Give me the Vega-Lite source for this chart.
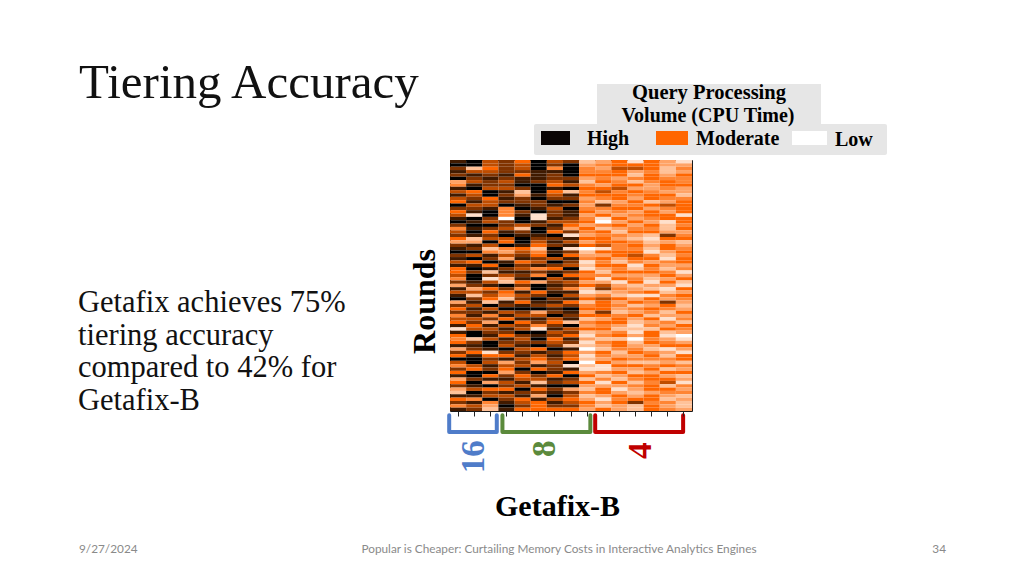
{"$schema":"https://vega.github.io/schema/vega-lite/v6.json","width":242,"height":251,"autosize":"none","padding":{"left":450,"top":160,"right":332,"bottom":165},"background":"white","config":{"view":{"stroke":"#1a1a1a","strokeWidth":1}},"title":{"text":"Tiering Accuracy","anchor":"start","frame":"group","dx":-371,"dy":29,"fontSize":49,"font":"Liberation Serif","fontWeight":"normal","color":"#111111"},
"datasets":{"cells":[
{"r":1,"c":1,"v":8},{"r":1,"c":2,"v":9},{"r":1,"c":3,"v":6},{"r":1,"c":4,"v":7},{"r":1,"c":5,"v":5},{"r":1,"c":6,"v":9},{"r":1,"c":7,"v":6},{"r":1,"c":8,"v":7},{"r":1,"c":9,"v":2},{"r":1,"c":10,"v":3},{"r":1,"c":11,"v":5},{"r":1,"c":12,"v":1},{"r":1,"c":13,"v":5},{"r":1,"c":14,"v":3},{"r":1,"c":15,"v":1},
{"r":2,"c":1,"v":9},{"r":2,"c":2,"v":9},{"r":2,"c":3,"v":6},{"r":2,"c":4,"v":7},{"r":2,"c":5,"v":6},{"r":2,"c":6,"v":9},{"r":2,"c":7,"v":7},{"r":2,"c":8,"v":9},{"r":2,"c":9,"v":3},{"r":2,"c":10,"v":4},{"r":2,"c":11,"v":5},{"r":2,"c":12,"v":5},{"r":2,"c":13,"v":5},{"r":2,"c":14,"v":3},{"r":2,"c":15,"v":3},
{"r":3,"c":1,"v":7},{"r":3,"c":2,"v":2},{"r":3,"c":3,"v":5},{"r":3,"c":4,"v":7},{"r":3,"c":5,"v":6},{"r":3,"c":6,"v":9},{"r":3,"c":7,"v":4},{"r":3,"c":8,"v":9},{"r":3,"c":9,"v":4},{"r":3,"c":10,"v":3},{"r":3,"c":11,"v":6},{"r":3,"c":12,"v":6},{"r":3,"c":13,"v":5},{"r":3,"c":14,"v":2},{"r":3,"c":15,"v":4},
{"r":4,"c":1,"v":8},{"r":4,"c":2,"v":6},{"r":4,"c":3,"v":6},{"r":4,"c":4,"v":7},{"r":4,"c":5,"v":7},{"r":4,"c":6,"v":8},{"r":4,"c":7,"v":8},{"r":4,"c":8,"v":9},{"r":4,"c":9,"v":4},{"r":4,"c":10,"v":4},{"r":4,"c":11,"v":5},{"r":4,"c":12,"v":3},{"r":4,"c":13,"v":4},{"r":4,"c":14,"v":2},{"r":4,"c":15,"v":3},
{"r":5,"c":1,"v":7},{"r":5,"c":2,"v":8},{"r":5,"c":3,"v":7},{"r":5,"c":4,"v":8},{"r":5,"c":5,"v":5},{"r":5,"c":6,"v":8},{"r":5,"c":7,"v":7},{"r":5,"c":8,"v":9},{"r":5,"c":9,"v":5},{"r":5,"c":10,"v":5},{"r":5,"c":11,"v":5},{"r":5,"c":12,"v":2},{"r":5,"c":13,"v":5},{"r":5,"c":14,"v":3},{"r":5,"c":15,"v":5},
{"r":6,"c":1,"v":9},{"r":6,"c":2,"v":7},{"r":6,"c":3,"v":8},{"r":6,"c":4,"v":7},{"r":6,"c":5,"v":8},{"r":6,"c":6,"v":8},{"r":6,"c":7,"v":7},{"r":6,"c":8,"v":7},{"r":6,"c":9,"v":3},{"r":6,"c":10,"v":4},{"r":6,"c":11,"v":3},{"r":6,"c":12,"v":4},{"r":6,"c":13,"v":5},{"r":6,"c":14,"v":4},{"r":6,"c":15,"v":4},
{"r":7,"c":1,"v":3},{"r":7,"c":2,"v":6},{"r":7,"c":3,"v":7},{"r":7,"c":4,"v":6},{"r":7,"c":5,"v":8},{"r":7,"c":6,"v":7},{"r":7,"c":7,"v":6},{"r":7,"c":8,"v":8},{"r":7,"c":9,"v":2},{"r":7,"c":10,"v":5},{"r":7,"c":11,"v":4},{"r":7,"c":12,"v":2},{"r":7,"c":13,"v":4},{"r":7,"c":14,"v":5},{"r":7,"c":15,"v":4},
{"r":8,"c":1,"v":4},{"r":8,"c":2,"v":8},{"r":8,"c":3,"v":7},{"r":8,"c":4,"v":7},{"r":8,"c":5,"v":9},{"r":8,"c":6,"v":9},{"r":8,"c":7,"v":5},{"r":8,"c":8,"v":6},{"r":8,"c":9,"v":4},{"r":8,"c":10,"v":3},{"r":8,"c":11,"v":5},{"r":8,"c":12,"v":5},{"r":8,"c":13,"v":3},{"r":8,"c":14,"v":5},{"r":8,"c":15,"v":5},
{"r":9,"c":1,"v":8},{"r":9,"c":2,"v":9},{"r":9,"c":3,"v":6},{"r":9,"c":4,"v":6},{"r":9,"c":5,"v":7},{"r":9,"c":6,"v":9},{"r":9,"c":7,"v":8},{"r":9,"c":8,"v":9},{"r":9,"c":9,"v":5},{"r":9,"c":10,"v":5},{"r":9,"c":11,"v":6},{"r":9,"c":12,"v":3},{"r":9,"c":13,"v":3},{"r":9,"c":14,"v":4},{"r":9,"c":15,"v":3},
{"r":10,"c":1,"v":6},{"r":10,"c":2,"v":5},{"r":10,"c":3,"v":9},{"r":10,"c":4,"v":8},{"r":10,"c":5,"v":2},{"r":10,"c":6,"v":9},{"r":10,"c":7,"v":5},{"r":10,"c":8,"v":2},{"r":10,"c":9,"v":4},{"r":10,"c":10,"v":6},{"r":10,"c":11,"v":4},{"r":10,"c":12,"v":5},{"r":10,"c":13,"v":4},{"r":10,"c":14,"v":3},{"r":10,"c":15,"v":3},
{"r":11,"c":1,"v":8},{"r":11,"c":2,"v":6},{"r":11,"c":3,"v":9},{"r":11,"c":4,"v":7},{"r":11,"c":5,"v":3},{"r":11,"c":6,"v":8},{"r":11,"c":7,"v":6},{"r":11,"c":8,"v":8},{"r":11,"c":9,"v":5},{"r":11,"c":10,"v":5},{"r":11,"c":11,"v":5},{"r":11,"c":12,"v":4},{"r":11,"c":13,"v":5},{"r":11,"c":14,"v":5},{"r":11,"c":15,"v":2},
{"r":12,"c":1,"v":6},{"r":12,"c":2,"v":7},{"r":12,"c":3,"v":5},{"r":12,"c":4,"v":8},{"r":12,"c":5,"v":7},{"r":12,"c":6,"v":9},{"r":12,"c":7,"v":7},{"r":12,"c":8,"v":7},{"r":12,"c":9,"v":3},{"r":12,"c":10,"v":4},{"r":12,"c":11,"v":5},{"r":12,"c":12,"v":3},{"r":12,"c":13,"v":5},{"r":12,"c":14,"v":4},{"r":12,"c":15,"v":4},
{"r":13,"c":1,"v":5},{"r":13,"c":2,"v":8},{"r":13,"c":3,"v":6},{"r":13,"c":4,"v":7},{"r":13,"c":5,"v":7},{"r":13,"c":6,"v":7},{"r":13,"c":7,"v":9},{"r":13,"c":8,"v":9},{"r":13,"c":9,"v":4},{"r":13,"c":10,"v":2},{"r":13,"c":11,"v":3},{"r":13,"c":12,"v":5},{"r":13,"c":13,"v":2},{"r":13,"c":14,"v":3},{"r":13,"c":15,"v":5},
{"r":14,"c":1,"v":9},{"r":14,"c":2,"v":6},{"r":14,"c":3,"v":6},{"r":14,"c":4,"v":9},{"r":14,"c":5,"v":8},{"r":14,"c":6,"v":7},{"r":14,"c":7,"v":8},{"r":14,"c":8,"v":7},{"r":14,"c":9,"v":3},{"r":14,"c":10,"v":7},{"r":14,"c":11,"v":4},{"r":14,"c":12,"v":4},{"r":14,"c":13,"v":5},{"r":14,"c":14,"v":6},{"r":14,"c":15,"v":5},
{"r":15,"c":1,"v":7},{"r":15,"c":2,"v":7},{"r":15,"c":3,"v":8},{"r":15,"c":4,"v":4},{"r":15,"c":5,"v":9},{"r":15,"c":6,"v":8},{"r":15,"c":7,"v":6},{"r":15,"c":8,"v":9},{"r":15,"c":9,"v":4},{"r":15,"c":10,"v":4},{"r":15,"c":11,"v":5},{"r":15,"c":12,"v":5},{"r":15,"c":13,"v":3},{"r":15,"c":14,"v":4},{"r":15,"c":15,"v":5},
{"r":16,"c":1,"v":5},{"r":16,"c":2,"v":8},{"r":16,"c":3,"v":9},{"r":16,"c":4,"v":4},{"r":16,"c":5,"v":7},{"r":16,"c":6,"v":9},{"r":16,"c":7,"v":7},{"r":16,"c":8,"v":8},{"r":16,"c":9,"v":5},{"r":16,"c":10,"v":3},{"r":16,"c":11,"v":4},{"r":16,"c":12,"v":3},{"r":16,"c":13,"v":5},{"r":16,"c":14,"v":3},{"r":16,"c":15,"v":5},
{"r":17,"c":1,"v":6},{"r":17,"c":2,"v":1},{"r":17,"c":3,"v":9},{"r":17,"c":4,"v":4},{"r":17,"c":5,"v":8},{"r":17,"c":6,"v":1},{"r":17,"c":7,"v":7},{"r":17,"c":8,"v":8},{"r":17,"c":9,"v":3},{"r":17,"c":10,"v":5},{"r":17,"c":11,"v":3},{"r":17,"c":12,"v":4},{"r":17,"c":13,"v":5},{"r":17,"c":14,"v":5},{"r":17,"c":15,"v":1},
{"r":18,"c":1,"v":8},{"r":18,"c":2,"v":9},{"r":18,"c":3,"v":7},{"r":18,"c":4,"v":0},{"r":18,"c":5,"v":9},{"r":18,"c":6,"v":1},{"r":18,"c":7,"v":8},{"r":18,"c":8,"v":7},{"r":18,"c":9,"v":4},{"r":18,"c":10,"v":1},{"r":18,"c":11,"v":5},{"r":18,"c":12,"v":3},{"r":18,"c":13,"v":4},{"r":18,"c":14,"v":5},{"r":18,"c":15,"v":5},
{"r":19,"c":1,"v":9},{"r":19,"c":2,"v":8},{"r":19,"c":3,"v":6},{"r":19,"c":4,"v":7},{"r":19,"c":5,"v":9},{"r":19,"c":6,"v":8},{"r":19,"c":7,"v":6},{"r":19,"c":8,"v":6},{"r":19,"c":9,"v":5},{"r":19,"c":10,"v":0},{"r":19,"c":11,"v":3},{"r":19,"c":12,"v":5},{"r":19,"c":13,"v":3},{"r":19,"c":14,"v":1},{"r":19,"c":15,"v":5},
{"r":20,"c":1,"v":7},{"r":20,"c":2,"v":9},{"r":20,"c":3,"v":9},{"r":20,"c":4,"v":7},{"r":20,"c":5,"v":6},{"r":20,"c":6,"v":7},{"r":20,"c":7,"v":8},{"r":20,"c":8,"v":5},{"r":20,"c":9,"v":3},{"r":20,"c":10,"v":4},{"r":20,"c":11,"v":5},{"r":20,"c":12,"v":3},{"r":20,"c":13,"v":5},{"r":20,"c":14,"v":2},{"r":20,"c":15,"v":4},
{"r":21,"c":1,"v":4},{"r":21,"c":2,"v":8},{"r":21,"c":3,"v":7},{"r":21,"c":4,"v":6},{"r":21,"c":5,"v":2},{"r":21,"c":6,"v":9},{"r":21,"c":7,"v":7},{"r":21,"c":8,"v":3},{"r":21,"c":9,"v":5},{"r":21,"c":10,"v":2},{"r":21,"c":11,"v":3},{"r":21,"c":12,"v":4},{"r":21,"c":13,"v":4},{"r":21,"c":14,"v":2},{"r":21,"c":15,"v":5},
{"r":22,"c":1,"v":6},{"r":22,"c":2,"v":9},{"r":22,"c":3,"v":5},{"r":22,"c":4,"v":8},{"r":22,"c":5,"v":7},{"r":22,"c":6,"v":9},{"r":22,"c":7,"v":5},{"r":22,"c":8,"v":7},{"r":22,"c":9,"v":4},{"r":22,"c":10,"v":5},{"r":22,"c":11,"v":2},{"r":22,"c":12,"v":5},{"r":22,"c":13,"v":5},{"r":22,"c":14,"v":3},{"r":22,"c":15,"v":3},
{"r":23,"c":1,"v":7},{"r":23,"c":2,"v":8},{"r":23,"c":3,"v":7},{"r":23,"c":4,"v":9},{"r":23,"c":5,"v":8},{"r":23,"c":6,"v":8},{"r":23,"c":7,"v":9},{"r":23,"c":8,"v":1},{"r":23,"c":9,"v":3},{"r":23,"c":10,"v":4},{"r":23,"c":11,"v":4},{"r":23,"c":12,"v":3},{"r":23,"c":13,"v":2},{"r":23,"c":14,"v":7},{"r":23,"c":15,"v":4},
{"r":24,"c":1,"v":5},{"r":24,"c":2,"v":2},{"r":24,"c":3,"v":6},{"r":24,"c":4,"v":6},{"r":24,"c":5,"v":9},{"r":24,"c":6,"v":7},{"r":24,"c":7,"v":7},{"r":24,"c":8,"v":8},{"r":24,"c":9,"v":5},{"r":24,"c":10,"v":5},{"r":24,"c":11,"v":3},{"r":24,"c":12,"v":2},{"r":24,"c":13,"v":1},{"r":24,"c":14,"v":5},{"r":24,"c":15,"v":5},
{"r":25,"c":1,"v":3},{"r":25,"c":2,"v":3},{"r":25,"c":3,"v":9},{"r":25,"c":4,"v":5},{"r":25,"c":5,"v":9},{"r":25,"c":6,"v":6},{"r":25,"c":7,"v":8},{"r":25,"c":8,"v":6},{"r":25,"c":9,"v":3},{"r":25,"c":10,"v":5},{"r":25,"c":11,"v":5},{"r":25,"c":12,"v":4},{"r":25,"c":13,"v":2},{"r":25,"c":14,"v":3},{"r":25,"c":15,"v":2},
{"r":26,"c":1,"v":7},{"r":26,"c":2,"v":8},{"r":26,"c":3,"v":6},{"r":26,"c":4,"v":9},{"r":26,"c":5,"v":8},{"r":26,"c":6,"v":5},{"r":26,"c":7,"v":7},{"r":26,"c":8,"v":8},{"r":26,"c":9,"v":5},{"r":26,"c":10,"v":6},{"r":26,"c":11,"v":4},{"r":26,"c":12,"v":5},{"r":26,"c":13,"v":3},{"r":26,"c":14,"v":5},{"r":26,"c":15,"v":3},
{"r":27,"c":1,"v":8},{"r":27,"c":2,"v":7},{"r":27,"c":3,"v":2},{"r":27,"c":4,"v":4},{"r":27,"c":5,"v":5},{"r":27,"c":6,"v":2},{"r":27,"c":7,"v":9},{"r":27,"c":8,"v":1},{"r":27,"c":9,"v":0},{"r":27,"c":10,"v":1},{"r":27,"c":11,"v":4},{"r":27,"c":12,"v":4},{"r":27,"c":13,"v":2},{"r":27,"c":14,"v":5},{"r":27,"c":15,"v":4},
{"r":28,"c":1,"v":9},{"r":28,"c":2,"v":9},{"r":28,"c":3,"v":4},{"r":28,"c":4,"v":3},{"r":28,"c":5,"v":6},{"r":28,"c":6,"v":4},{"r":28,"c":7,"v":8},{"r":28,"c":8,"v":7},{"r":28,"c":9,"v":2},{"r":28,"c":10,"v":5},{"r":28,"c":11,"v":5},{"r":28,"c":12,"v":5},{"r":28,"c":13,"v":1},{"r":28,"c":14,"v":3},{"r":28,"c":15,"v":5},
{"r":29,"c":1,"v":7},{"r":29,"c":2,"v":6},{"r":29,"c":3,"v":8},{"r":29,"c":4,"v":6},{"r":29,"c":5,"v":7},{"r":29,"c":6,"v":5},{"r":29,"c":7,"v":9},{"r":29,"c":8,"v":5},{"r":29,"c":9,"v":3},{"r":29,"c":10,"v":3},{"r":29,"c":11,"v":5},{"r":29,"c":12,"v":6},{"r":29,"c":13,"v":4},{"r":29,"c":14,"v":2},{"r":29,"c":15,"v":4},
{"r":30,"c":1,"v":8},{"r":30,"c":2,"v":9},{"r":30,"c":3,"v":7},{"r":30,"c":4,"v":3},{"r":30,"c":5,"v":8},{"r":30,"c":6,"v":7},{"r":30,"c":7,"v":6},{"r":30,"c":8,"v":8},{"r":30,"c":9,"v":4},{"r":30,"c":10,"v":5},{"r":30,"c":11,"v":3},{"r":30,"c":12,"v":5},{"r":30,"c":13,"v":5},{"r":30,"c":14,"v":1},{"r":30,"c":15,"v":5},
{"r":31,"c":1,"v":6},{"r":31,"c":2,"v":5},{"r":31,"c":3,"v":9},{"r":31,"c":4,"v":8},{"r":31,"c":5,"v":5},{"r":31,"c":6,"v":6},{"r":31,"c":7,"v":9},{"r":31,"c":8,"v":7},{"r":31,"c":9,"v":1},{"r":31,"c":10,"v":4},{"r":31,"c":11,"v":2},{"r":31,"c":12,"v":4},{"r":31,"c":13,"v":3},{"r":31,"c":14,"v":4},{"r":31,"c":15,"v":5},
{"r":32,"c":1,"v":8},{"r":32,"c":2,"v":8},{"r":32,"c":3,"v":5},{"r":32,"c":4,"v":9},{"r":32,"c":5,"v":7},{"r":32,"c":6,"v":8},{"r":32,"c":7,"v":7},{"r":32,"c":8,"v":6},{"r":32,"c":9,"v":2},{"r":32,"c":10,"v":5},{"r":32,"c":11,"v":5},{"r":32,"c":12,"v":1},{"r":32,"c":13,"v":5},{"r":32,"c":14,"v":3},{"r":32,"c":15,"v":3},
{"r":33,"c":1,"v":5},{"r":33,"c":2,"v":9},{"r":33,"c":3,"v":8},{"r":33,"c":4,"v":7},{"r":33,"c":5,"v":6},{"r":33,"c":6,"v":4},{"r":33,"c":7,"v":5},{"r":33,"c":8,"v":9},{"r":33,"c":9,"v":1},{"r":33,"c":10,"v":3},{"r":33,"c":11,"v":4},{"r":33,"c":12,"v":2},{"r":33,"c":13,"v":4},{"r":33,"c":14,"v":2},{"r":33,"c":15,"v":4},
{"r":34,"c":1,"v":5},{"r":34,"c":2,"v":7},{"r":34,"c":3,"v":2},{"r":34,"c":4,"v":8},{"r":34,"c":5,"v":8},{"r":34,"c":6,"v":7},{"r":34,"c":7,"v":8},{"r":34,"c":8,"v":7},{"r":34,"c":9,"v":5},{"r":34,"c":10,"v":2},{"r":34,"c":11,"v":5},{"r":34,"c":12,"v":5},{"r":34,"c":13,"v":5},{"r":34,"c":14,"v":4},{"r":34,"c":15,"v":1},
{"r":35,"c":1,"v":6},{"r":35,"c":2,"v":9},{"r":35,"c":3,"v":7},{"r":35,"c":4,"v":6},{"r":35,"c":5,"v":7},{"r":35,"c":6,"v":4},{"r":35,"c":7,"v":9},{"r":35,"c":8,"v":5},{"r":35,"c":9,"v":4},{"r":35,"c":10,"v":4},{"r":35,"c":11,"v":3},{"r":35,"c":12,"v":3},{"r":35,"c":13,"v":3},{"r":35,"c":14,"v":5},{"r":35,"c":15,"v":3},
{"r":36,"c":1,"v":4},{"r":36,"c":2,"v":9},{"r":36,"c":3,"v":1},{"r":36,"c":4,"v":3},{"r":36,"c":5,"v":8},{"r":36,"c":6,"v":9},{"r":36,"c":7,"v":6},{"r":36,"c":8,"v":8},{"r":36,"c":9,"v":5},{"r":36,"c":10,"v":1},{"r":36,"c":11,"v":5},{"r":36,"c":12,"v":4},{"r":36,"c":13,"v":2},{"r":36,"c":14,"v":3},{"r":36,"c":15,"v":5},
{"r":37,"c":1,"v":7},{"r":37,"c":2,"v":8},{"r":37,"c":3,"v":6},{"r":37,"c":4,"v":2},{"r":37,"c":5,"v":5},{"r":37,"c":6,"v":3},{"r":37,"c":7,"v":7},{"r":37,"c":8,"v":6},{"r":37,"c":9,"v":3},{"r":37,"c":10,"v":3},{"r":37,"c":11,"v":1},{"r":37,"c":12,"v":5},{"r":37,"c":13,"v":1},{"r":37,"c":14,"v":5},{"r":37,"c":15,"v":2},
{"r":38,"c":1,"v":3},{"r":38,"c":2,"v":7},{"r":38,"c":3,"v":8},{"r":38,"c":4,"v":9},{"r":38,"c":5,"v":7},{"r":38,"c":6,"v":9},{"r":38,"c":7,"v":8},{"r":38,"c":8,"v":7},{"r":38,"c":9,"v":5},{"r":38,"c":10,"v":6},{"r":38,"c":11,"v":3},{"r":38,"c":12,"v":2},{"r":38,"c":13,"v":3},{"r":38,"c":14,"v":3},{"r":38,"c":15,"v":1},
{"r":39,"c":1,"v":8},{"r":39,"c":2,"v":3},{"r":39,"c":3,"v":5},{"r":39,"c":4,"v":7},{"r":39,"c":5,"v":4},{"r":39,"c":6,"v":9},{"r":39,"c":7,"v":7},{"r":39,"c":8,"v":4},{"r":39,"c":9,"v":2},{"r":39,"c":10,"v":7},{"r":39,"c":11,"v":4},{"r":39,"c":12,"v":3},{"r":39,"c":13,"v":2},{"r":39,"c":14,"v":1},{"r":39,"c":15,"v":5},
{"r":40,"c":1,"v":6},{"r":40,"c":2,"v":6},{"r":40,"c":3,"v":7},{"r":40,"c":4,"v":5},{"r":40,"c":5,"v":8},{"r":40,"c":6,"v":5},{"r":40,"c":7,"v":8},{"r":40,"c":8,"v":8},{"r":40,"c":9,"v":1},{"r":40,"c":10,"v":2},{"r":40,"c":11,"v":3},{"r":40,"c":12,"v":4},{"r":40,"c":13,"v":5},{"r":40,"c":14,"v":2},{"r":40,"c":15,"v":3},
{"r":41,"c":1,"v":8},{"r":41,"c":2,"v":2},{"r":41,"c":3,"v":6},{"r":41,"c":4,"v":4},{"r":41,"c":5,"v":6},{"r":41,"c":6,"v":7},{"r":41,"c":7,"v":9},{"r":41,"c":8,"v":6},{"r":41,"c":9,"v":3},{"r":41,"c":10,"v":4},{"r":41,"c":11,"v":2},{"r":41,"c":12,"v":1},{"r":41,"c":13,"v":1},{"r":41,"c":14,"v":4},{"r":41,"c":15,"v":5},
{"r":42,"c":1,"v":9},{"r":42,"c":2,"v":7},{"r":42,"c":3,"v":5},{"r":42,"c":4,"v":2},{"r":42,"c":5,"v":7},{"r":42,"c":6,"v":9},{"r":42,"c":7,"v":7},{"r":42,"c":8,"v":8},{"r":42,"c":9,"v":5},{"r":42,"c":10,"v":6},{"r":42,"c":11,"v":5},{"r":42,"c":12,"v":3},{"r":42,"c":13,"v":5},{"r":42,"c":14,"v":3},{"r":42,"c":15,"v":4},
{"r":43,"c":1,"v":3},{"r":43,"c":2,"v":8},{"r":43,"c":3,"v":2},{"r":43,"c":4,"v":8},{"r":43,"c":5,"v":5},{"r":43,"c":6,"v":8},{"r":43,"c":7,"v":8},{"r":43,"c":8,"v":5},{"r":43,"c":9,"v":2},{"r":43,"c":10,"v":5},{"r":43,"c":11,"v":3},{"r":43,"c":12,"v":5},{"r":43,"c":13,"v":4},{"r":43,"c":14,"v":7},{"r":43,"c":15,"v":3},
{"r":44,"c":1,"v":7},{"r":44,"c":2,"v":6},{"r":44,"c":3,"v":9},{"r":44,"c":4,"v":7},{"r":44,"c":5,"v":8},{"r":44,"c":6,"v":7},{"r":44,"c":7,"v":6},{"r":44,"c":8,"v":7},{"r":44,"c":9,"v":4},{"r":44,"c":10,"v":5},{"r":44,"c":11,"v":4},{"r":44,"c":12,"v":2},{"r":44,"c":13,"v":3},{"r":44,"c":14,"v":5},{"r":44,"c":15,"v":2},
{"r":45,"c":1,"v":5},{"r":45,"c":2,"v":8},{"r":45,"c":3,"v":6},{"r":45,"c":4,"v":9},{"r":45,"c":5,"v":9},{"r":45,"c":6,"v":9},{"r":45,"c":7,"v":8},{"r":45,"c":8,"v":9},{"r":45,"c":9,"v":5},{"r":45,"c":10,"v":5},{"r":45,"c":11,"v":3},{"r":45,"c":12,"v":4},{"r":45,"c":13,"v":5},{"r":45,"c":14,"v":4},{"r":45,"c":15,"v":3},
{"r":46,"c":1,"v":7},{"r":46,"c":2,"v":7},{"r":46,"c":3,"v":8},{"r":46,"c":4,"v":6},{"r":46,"c":5,"v":7},{"r":46,"c":6,"v":3},{"r":46,"c":7,"v":7},{"r":46,"c":8,"v":8},{"r":46,"c":9,"v":3},{"r":46,"c":10,"v":7},{"r":46,"c":11,"v":2},{"r":46,"c":12,"v":3},{"r":46,"c":13,"v":4},{"r":46,"c":14,"v":2},{"r":46,"c":15,"v":5},
{"r":47,"c":1,"v":4},{"r":47,"c":2,"v":8},{"r":47,"c":3,"v":4},{"r":47,"c":4,"v":8},{"r":47,"c":5,"v":6},{"r":47,"c":6,"v":6},{"r":47,"c":7,"v":9},{"r":47,"c":8,"v":7},{"r":47,"c":9,"v":5},{"r":47,"c":10,"v":5},{"r":47,"c":11,"v":4},{"r":47,"c":12,"v":5},{"r":47,"c":13,"v":2},{"r":47,"c":14,"v":3},{"r":47,"c":15,"v":3},
{"r":48,"c":1,"v":6},{"r":48,"c":2,"v":6},{"r":48,"c":3,"v":7},{"r":48,"c":4,"v":5},{"r":48,"c":5,"v":8},{"r":48,"c":6,"v":8},{"r":48,"c":7,"v":6},{"r":48,"c":8,"v":8},{"r":48,"c":9,"v":2},{"r":48,"c":10,"v":3},{"r":48,"c":11,"v":5},{"r":48,"c":12,"v":3},{"r":48,"c":13,"v":5},{"r":48,"c":14,"v":1},{"r":48,"c":15,"v":4},
{"r":49,"c":1,"v":5},{"r":49,"c":2,"v":7},{"r":49,"c":3,"v":3},{"r":49,"c":4,"v":9},{"r":49,"c":5,"v":5},{"r":49,"c":6,"v":7},{"r":49,"c":7,"v":5},{"r":49,"c":8,"v":2},{"r":49,"c":9,"v":4},{"r":49,"c":10,"v":5},{"r":49,"c":11,"v":5},{"r":49,"c":12,"v":2},{"r":49,"c":13,"v":3},{"r":49,"c":14,"v":4},{"r":49,"c":15,"v":2},
{"r":50,"c":1,"v":8},{"r":50,"c":2,"v":5},{"r":50,"c":3,"v":8},{"r":50,"c":4,"v":6},{"r":50,"c":5,"v":7},{"r":50,"c":6,"v":4},{"r":50,"c":7,"v":7},{"r":50,"c":8,"v":9},{"r":50,"c":9,"v":3},{"r":50,"c":10,"v":4},{"r":50,"c":11,"v":3},{"r":50,"c":12,"v":1},{"r":50,"c":13,"v":4},{"r":50,"c":14,"v":3},{"r":50,"c":15,"v":5},
{"r":51,"c":1,"v":1},{"r":51,"c":2,"v":6},{"r":51,"c":3,"v":6},{"r":51,"c":4,"v":8},{"r":51,"c":5,"v":6},{"r":51,"c":6,"v":1},{"r":51,"c":7,"v":8},{"r":51,"c":8,"v":6},{"r":51,"c":9,"v":5},{"r":51,"c":10,"v":5},{"r":51,"c":11,"v":2},{"r":51,"c":12,"v":2},{"r":51,"c":13,"v":2},{"r":51,"c":14,"v":5},{"r":51,"c":15,"v":4},
{"r":52,"c":1,"v":8},{"r":52,"c":2,"v":9},{"r":52,"c":3,"v":7},{"r":52,"c":4,"v":7},{"r":52,"c":5,"v":9},{"r":52,"c":6,"v":9},{"r":52,"c":7,"v":6},{"r":52,"c":8,"v":7},{"r":52,"c":9,"v":2},{"r":52,"c":10,"v":3},{"r":52,"c":11,"v":4},{"r":52,"c":12,"v":1},{"r":52,"c":13,"v":5},{"r":52,"c":14,"v":2},{"r":52,"c":15,"v":3},
{"r":53,"c":1,"v":5},{"r":53,"c":2,"v":9},{"r":53,"c":3,"v":8},{"r":53,"c":4,"v":5},{"r":53,"c":5,"v":7},{"r":53,"c":6,"v":8},{"r":53,"c":7,"v":7},{"r":53,"c":8,"v":5},{"r":53,"c":9,"v":1},{"r":53,"c":10,"v":4},{"r":53,"c":11,"v":5},{"r":53,"c":12,"v":3},{"r":53,"c":13,"v":5},{"r":53,"c":14,"v":1},{"r":53,"c":15,"v":0},
{"r":54,"c":1,"v":4},{"r":54,"c":2,"v":2},{"r":54,"c":3,"v":6},{"r":54,"c":4,"v":8},{"r":54,"c":5,"v":6},{"r":54,"c":6,"v":9},{"r":54,"c":7,"v":5},{"r":54,"c":8,"v":8},{"r":54,"c":9,"v":3},{"r":54,"c":10,"v":2},{"r":54,"c":11,"v":2},{"r":54,"c":12,"v":0},{"r":54,"c":13,"v":4},{"r":54,"c":14,"v":3},{"r":54,"c":15,"v":1},
{"r":55,"c":1,"v":5},{"r":55,"c":2,"v":7},{"r":55,"c":3,"v":9},{"r":55,"c":4,"v":7},{"r":55,"c":5,"v":7},{"r":55,"c":6,"v":7},{"r":55,"c":7,"v":6},{"r":55,"c":8,"v":7},{"r":55,"c":9,"v":1},{"r":55,"c":10,"v":4},{"r":55,"c":11,"v":5},{"r":55,"c":12,"v":2},{"r":55,"c":13,"v":5},{"r":55,"c":14,"v":4},{"r":55,"c":15,"v":3},
{"r":56,"c":1,"v":8},{"r":56,"c":2,"v":8},{"r":56,"c":3,"v":9},{"r":56,"c":4,"v":6},{"r":56,"c":5,"v":8},{"r":56,"c":6,"v":9},{"r":56,"c":7,"v":7},{"r":56,"c":8,"v":2},{"r":56,"c":9,"v":2},{"r":56,"c":10,"v":3},{"r":56,"c":11,"v":5},{"r":56,"c":12,"v":3},{"r":56,"c":13,"v":3},{"r":56,"c":14,"v":5},{"r":56,"c":15,"v":5},
{"r":57,"c":1,"v":3},{"r":57,"c":2,"v":7},{"r":57,"c":3,"v":8},{"r":57,"c":4,"v":9},{"r":57,"c":5,"v":6},{"r":57,"c":6,"v":5},{"r":57,"c":7,"v":9},{"r":57,"c":8,"v":8},{"r":57,"c":9,"v":0},{"r":57,"c":10,"v":2},{"r":57,"c":11,"v":4},{"r":57,"c":12,"v":4},{"r":57,"c":13,"v":2},{"r":57,"c":14,"v":1},{"r":57,"c":15,"v":3},
{"r":58,"c":1,"v":7},{"r":58,"c":2,"v":5},{"r":58,"c":3,"v":1},{"r":58,"c":4,"v":7},{"r":58,"c":5,"v":7},{"r":58,"c":6,"v":8},{"r":58,"c":7,"v":7},{"r":58,"c":8,"v":5},{"r":58,"c":9,"v":3},{"r":58,"c":10,"v":5},{"r":58,"c":11,"v":2},{"r":58,"c":12,"v":5},{"r":58,"c":13,"v":4},{"r":58,"c":14,"v":3},{"r":58,"c":15,"v":1},
{"r":59,"c":1,"v":5},{"r":59,"c":2,"v":8},{"r":59,"c":3,"v":5},{"r":59,"c":4,"v":5},{"r":59,"c":5,"v":8},{"r":59,"c":6,"v":6},{"r":59,"c":7,"v":8},{"r":59,"c":8,"v":6},{"r":59,"c":9,"v":1},{"r":59,"c":10,"v":4},{"r":59,"c":11,"v":3},{"r":59,"c":12,"v":3},{"r":59,"c":13,"v":5},{"r":59,"c":14,"v":2},{"r":59,"c":15,"v":5},
{"r":60,"c":1,"v":9},{"r":60,"c":2,"v":9},{"r":60,"c":3,"v":7},{"r":60,"c":4,"v":8},{"r":60,"c":5,"v":6},{"r":60,"c":6,"v":5},{"r":60,"c":7,"v":7},{"r":60,"c":8,"v":5},{"r":60,"c":9,"v":2},{"r":60,"c":10,"v":3},{"r":60,"c":11,"v":5},{"r":60,"c":12,"v":4},{"r":60,"c":13,"v":4},{"r":60,"c":14,"v":4},{"r":60,"c":15,"v":5},
{"r":61,"c":1,"v":6},{"r":61,"c":2,"v":9},{"r":61,"c":3,"v":6},{"r":61,"c":4,"v":3},{"r":61,"c":5,"v":7},{"r":61,"c":6,"v":3},{"r":61,"c":7,"v":6},{"r":61,"c":8,"v":9},{"r":61,"c":9,"v":0},{"r":61,"c":10,"v":5},{"r":61,"c":11,"v":3},{"r":61,"c":12,"v":2},{"r":61,"c":13,"v":2},{"r":61,"c":14,"v":3},{"r":61,"c":15,"v":2},
{"r":62,"c":1,"v":4},{"r":62,"c":2,"v":6},{"r":62,"c":3,"v":8},{"r":62,"c":4,"v":6},{"r":62,"c":5,"v":6},{"r":62,"c":6,"v":8},{"r":62,"c":7,"v":7},{"r":62,"c":8,"v":1},{"r":62,"c":9,"v":2},{"r":62,"c":10,"v":1},{"r":62,"c":11,"v":5},{"r":62,"c":12,"v":5},{"r":62,"c":13,"v":4},{"r":62,"c":14,"v":5},{"r":62,"c":15,"v":4},
{"r":63,"c":1,"v":7},{"r":63,"c":2,"v":5},{"r":63,"c":3,"v":7},{"r":63,"c":4,"v":5},{"r":63,"c":5,"v":9},{"r":63,"c":6,"v":5},{"r":63,"c":7,"v":7},{"r":63,"c":8,"v":8},{"r":63,"c":9,"v":1},{"r":63,"c":10,"v":1},{"r":63,"c":11,"v":3},{"r":63,"c":12,"v":3},{"r":63,"c":13,"v":5},{"r":63,"c":14,"v":2},{"r":63,"c":15,"v":3},
{"r":64,"c":1,"v":5},{"r":64,"c":2,"v":9},{"r":64,"c":3,"v":9},{"r":64,"c":4,"v":3},{"r":64,"c":5,"v":7},{"r":64,"c":6,"v":9},{"r":64,"c":7,"v":8},{"r":64,"c":8,"v":5},{"r":64,"c":9,"v":3},{"r":64,"c":10,"v":4},{"r":64,"c":11,"v":5},{"r":64,"c":12,"v":2},{"r":64,"c":13,"v":3},{"r":64,"c":14,"v":5},{"r":64,"c":15,"v":5},
{"r":65,"c":1,"v":8},{"r":65,"c":2,"v":9},{"r":65,"c":3,"v":5},{"r":65,"c":4,"v":7},{"r":65,"c":5,"v":5},{"r":65,"c":6,"v":7},{"r":65,"c":7,"v":5},{"r":65,"c":8,"v":9},{"r":65,"c":9,"v":5},{"r":65,"c":10,"v":2},{"r":65,"c":11,"v":3},{"r":65,"c":12,"v":5},{"r":65,"c":13,"v":5},{"r":65,"c":14,"v":3},{"r":65,"c":15,"v":2},
{"r":66,"c":1,"v":3},{"r":66,"c":2,"v":7},{"r":66,"c":3,"v":8},{"r":66,"c":4,"v":8},{"r":66,"c":5,"v":6},{"r":66,"c":6,"v":6},{"r":66,"c":7,"v":8},{"r":66,"c":8,"v":7},{"r":66,"c":9,"v":2},{"r":66,"c":10,"v":4},{"r":66,"c":11,"v":2},{"r":66,"c":12,"v":4},{"r":66,"c":13,"v":5},{"r":66,"c":14,"v":5},{"r":66,"c":15,"v":3},
{"r":67,"c":1,"v":5},{"r":67,"c":2,"v":9},{"r":67,"c":3,"v":3},{"r":67,"c":4,"v":6},{"r":67,"c":5,"v":8},{"r":67,"c":6,"v":2},{"r":67,"c":7,"v":7},{"r":67,"c":8,"v":6},{"r":67,"c":9,"v":5},{"r":67,"c":10,"v":1},{"r":67,"c":11,"v":5},{"r":67,"c":12,"v":2},{"r":67,"c":13,"v":4},{"r":67,"c":14,"v":6},{"r":67,"c":15,"v":1},
{"r":68,"c":1,"v":7},{"r":68,"c":2,"v":8},{"r":68,"c":3,"v":9},{"r":68,"c":4,"v":7},{"r":68,"c":5,"v":6},{"r":68,"c":6,"v":8},{"r":68,"c":7,"v":9},{"r":68,"c":8,"v":9},{"r":68,"c":9,"v":3},{"r":68,"c":10,"v":3},{"r":68,"c":11,"v":3},{"r":68,"c":12,"v":4},{"r":68,"c":13,"v":5},{"r":68,"c":14,"v":2},{"r":68,"c":15,"v":4},
{"r":69,"c":1,"v":3},{"r":69,"c":2,"v":6},{"r":69,"c":3,"v":5},{"r":69,"c":4,"v":5},{"r":69,"c":5,"v":9},{"r":69,"c":6,"v":5},{"r":69,"c":7,"v":7},{"r":69,"c":8,"v":3},{"r":69,"c":9,"v":2},{"r":69,"c":10,"v":5},{"r":69,"c":11,"v":1},{"r":69,"c":12,"v":3},{"r":69,"c":13,"v":5},{"r":69,"c":14,"v":5},{"r":69,"c":15,"v":3},
{"r":70,"c":1,"v":2},{"r":70,"c":2,"v":9},{"r":70,"c":3,"v":7},{"r":70,"c":4,"v":8},{"r":70,"c":5,"v":7},{"r":70,"c":6,"v":7},{"r":70,"c":7,"v":8},{"r":70,"c":8,"v":7},{"r":70,"c":9,"v":4},{"r":70,"c":10,"v":5},{"r":70,"c":11,"v":3},{"r":70,"c":12,"v":2},{"r":70,"c":13,"v":3},{"r":70,"c":14,"v":4},{"r":70,"c":15,"v":4},
{"r":71,"c":1,"v":8},{"r":71,"c":2,"v":8},{"r":71,"c":3,"v":6},{"r":71,"c":4,"v":6},{"r":71,"c":5,"v":8},{"r":71,"c":6,"v":3},{"r":71,"c":7,"v":9},{"r":71,"c":8,"v":6},{"r":71,"c":9,"v":2},{"r":71,"c":10,"v":3},{"r":71,"c":11,"v":5},{"r":71,"c":12,"v":3},{"r":71,"c":13,"v":5},{"r":71,"c":14,"v":3},{"r":71,"c":15,"v":2},
{"r":72,"c":1,"v":5},{"r":72,"c":2,"v":4},{"r":72,"c":3,"v":9},{"r":72,"c":4,"v":7},{"r":72,"c":5,"v":5},{"r":72,"c":6,"v":8},{"r":72,"c":7,"v":6},{"r":72,"c":8,"v":5},{"r":72,"c":9,"v":3},{"r":72,"c":10,"v":1},{"r":72,"c":11,"v":4},{"r":72,"c":12,"v":5},{"r":72,"c":13,"v":5},{"r":72,"c":14,"v":2},{"r":72,"c":15,"v":3},
{"r":73,"c":1,"v":7},{"r":73,"c":2,"v":8},{"r":73,"c":3,"v":4},{"r":73,"c":4,"v":8},{"r":73,"c":5,"v":6},{"r":73,"c":6,"v":5},{"r":73,"c":7,"v":8},{"r":73,"c":8,"v":6},{"r":73,"c":9,"v":5},{"r":73,"c":10,"v":3},{"r":73,"c":11,"v":5},{"r":73,"c":12,"v":7},{"r":73,"c":13,"v":4},{"r":73,"c":14,"v":4},{"r":73,"c":15,"v":2},
{"r":74,"c":1,"v":4},{"r":74,"c":2,"v":6},{"r":74,"c":3,"v":3},{"r":74,"c":4,"v":9},{"r":74,"c":5,"v":7},{"r":74,"c":6,"v":5},{"r":74,"c":7,"v":7},{"r":74,"c":8,"v":7},{"r":74,"c":9,"v":4},{"r":74,"c":10,"v":2},{"r":74,"c":11,"v":3},{"r":74,"c":12,"v":2},{"r":74,"c":13,"v":5},{"r":74,"c":14,"v":3},{"r":74,"c":15,"v":2},
{"r":75,"c":1,"v":8},{"r":75,"c":2,"v":7},{"r":75,"c":3,"v":2},{"r":75,"c":4,"v":8},{"r":75,"c":5,"v":5},{"r":75,"c":6,"v":5},{"r":75,"c":7,"v":5},{"r":75,"c":8,"v":5},{"r":75,"c":9,"v":3},{"r":75,"c":10,"v":5},{"r":75,"c":11,"v":3},{"r":75,"c":12,"v":2},{"r":75,"c":13,"v":5},{"r":75,"c":14,"v":4},{"r":75,"c":15,"v":3}
],
"brackets":[
{"g":"16","o":1,"x":-0.05,"y":76.3},{"g":"16","o":2,"x":-0.05,"y":81.3},{"g":"16","o":3,"x":2.9,"y":81.3},{"g":"16","o":4,"x":2.9,"y":76.3},
{"g":"8","o":1,"x":3.25,"y":76.3},{"g":"8","o":2,"x":3.25,"y":81.3},{"g":"8","o":3,"x":8.7,"y":81.3},{"g":"8","o":4,"x":8.7,"y":76.3},
{"g":"4","o":1,"x":9.0,"y":76.3},{"g":"4","o":2,"x":9.0,"y":81.3},{"g":"4","o":3,"x":14.45,"y":81.3},{"g":"4","o":4,"x":14.45,"y":76.3}
],
"bracketLabels":[{"g":"16","x":1.49,"y":88.7},{"g":"8","x":5.89,"y":86.3},{"g":"4","x":11.84,"y":86.9}]},
"resolve":{"scale":{"x":"independent","y":"independent","color":"independent"},"axis":{"x":"independent","y":"independent"}},
"layer":[
{"data":{"name":"cells"},"mark":{"type":"rect","strokeWidth":0},"encoding":{"x":{"field":"c","type":"ordinal","scale":{"paddingInner":0,"paddingOuter":0},"axis":{"title":"Getafix-B","labels":false,"ticks":true,"tickColor":"#222222","tickSize":5,"domain":false,"titleFont":"Liberation Serif","titleFontWeight":"bold","titleFontSize":30,"titleColor":"#000000","titleX":107,"titleY":104,"titleBaseline":"alphabetic"}},"y":{"field":"r","type":"ordinal","scale":{"paddingInner":0,"paddingOuter":0},"axis":{"title":"Rounds","labels":false,"ticks":false,"domain":false,"titleFont":"Liberation Serif","titleFontWeight":"bold","titleFontSize":32,"titleColor":"#000000","titleX":-9,"titleY":141}},"color":{"field":"v","type":"quantitative","scale":{"domain":[0,5,9],"range":["#ffffff","#ff6600","#000000"],"interpolate":"rgb"},"legend":null}}},
{"data":{"name":"brackets"},"mark":{"type":"line","strokeWidth":4,"strokeCap":"round","strokeJoin":"round","clip":false},"encoding":{"x":{"field":"x","type":"quantitative","scale":{"domain":[0,15],"nice":false,"zero":false},"axis":null},"y":{"field":"y","type":"quantitative","scale":{"domain":[0,75],"reverse":true,"nice":false,"zero":false},"axis":null},"order":{"field":"o"},"color":{"field":"g","type":"nominal","scale":{"domain":["16","8","4"],"range":["#4f7cc9","#5b8a3c","#c00000"]},"legend":null},"detail":{"field":"g"}}},
{"data":{"name":"bracketLabels"},"mark":{"type":"text","angle":270,"align":"center","baseline":"middle","font":"Liberation Serif","fontWeight":"bold","fontSize":33,"clip":false},"encoding":{"x":{"field":"x","type":"quantitative","scale":{"domain":[0,15],"nice":false,"zero":false},"axis":null},"y":{"field":"y","type":"quantitative","scale":{"domain":[0,75],"reverse":true,"nice":false,"zero":false},"axis":null},"text":{"field":"g"},"color":{"field":"g","type":"nominal","scale":{"domain":["16","8","4"],"range":["#4f7cc9","#5b8a3c","#c00000"]},"legend":null}}},
{"data":{"values":[{}]},"mark":{"type":"rect","x":147,"x2":371,"y":-76,"y2":-36,"fill":"#e6e6e6"},"encoding":{}},
{"data":{"values":[{}]},"mark":{"type":"rect","x":84,"x2":437,"y":-36,"y2":-5,"fill":"#e6e6e6","cornerRadius":2},"encoding":{}},
{"data":{"values":[{}]},"mark":{"type":"rect","x":91,"x2":120,"y":-29,"y2":-15,"fill":"#0a0505"},"encoding":{}},
{"data":{"values":[{}]},"mark":{"type":"rect","x":206,"x2":238,"y":-29,"y2":-15,"fill":"#ff6600"},"encoding":{}},
{"data":{"values":[{}]},"mark":{"type":"rect","x":342,"x2":377,"y":-29,"y2":-15,"fill":"#ffffff"},"encoding":{}},
{"data":{"values":[{}]},"mark":{"type":"text","text":"Query Processing","x":259,"y":-61,"align":"center","baseline":"alphabetic","font":"Liberation Serif","fontWeight":"bold","fontSize":20.5,"fill":"#000000"},"encoding":{}},
{"data":{"values":[{}]},"mark":{"type":"text","text":"Volume (CPU Time)","x":258,"y":-38,"align":"center","baseline":"alphabetic","font":"Liberation Serif","fontWeight":"bold","fontSize":20,"fill":"#000000"},"encoding":{}},
{"data":{"values":[{}]},"mark":{"type":"text","text":"High","x":137,"y":-15,"align":"left","baseline":"alphabetic","font":"Liberation Serif","fontWeight":"bold","fontSize":20,"fill":"#000000"},"encoding":{}},
{"data":{"values":[{}]},"mark":{"type":"text","text":"Moderate","x":246,"y":-15,"align":"left","baseline":"alphabetic","font":"Liberation Serif","fontWeight":"bold","fontSize":20,"fill":"#000000"},"encoding":{}},
{"data":{"values":[{}]},"mark":{"type":"text","text":"Low","x":385,"y":-14,"align":"left","baseline":"alphabetic","font":"Liberation Serif","fontWeight":"bold","fontSize":20,"fill":"#000000"},"encoding":{}},
{"data":{"values":[{}]},"mark":{"type":"text","text":["Getafix achieves 75%","tiering accuracy","compared to 42% for","Getafix-B"],"x":-372,"y":152,"align":"left","baseline":"alphabetic","lineHeight":32.5,"font":"Liberation Serif","fontSize":30.5,"fill":"#111111"},"encoding":{}},
{"data":{"values":[{}]},"mark":{"type":"text","text":"9/27/2024","x":-371,"y":393,"align":"left","baseline":"alphabetic","font":"Lato","fontSize":11.8,"fill":"#8a8a8a"},"encoding":{}},
{"data":{"values":[{}]},"mark":{"type":"text","text":"Popular is Cheaper: Curtailing Memory Costs in Interactive Analytics Engines","x":109,"y":393,"align":"center","baseline":"alphabetic","font":"Lato","fontSize":11.8,"fill":"#8a8a8a"},"encoding":{}},
{"data":{"values":[{}]},"mark":{"type":"text","text":"34","x":496,"y":393,"align":"right","baseline":"alphabetic","font":"Lato","fontSize":11.8,"fill":"#8a8a8a"},"encoding":{}}
]}
